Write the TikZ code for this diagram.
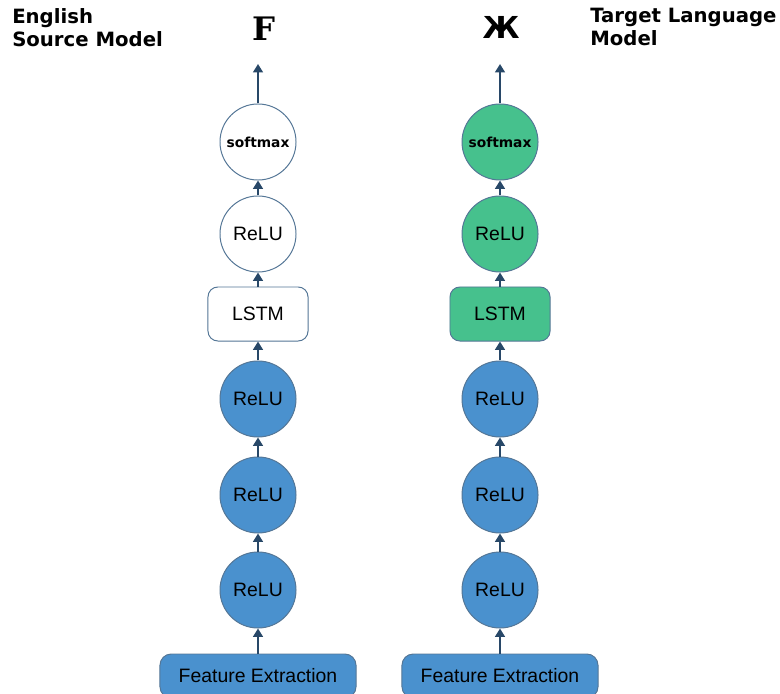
\documentclass[tikz,border=0pt]{standalone}
\usepackage{fontspec}
\setmainfont{Liberation Sans}
\newfontfamily\headfont{DejaVu Sans}
\newfontfamily\glyphfont{DejaVu Serif}
\usetikzlibrary{arrows.meta}
\definecolor{layerblue}{RGB}{74,145,206}
\definecolor{layergreen}{RGB}{70,193,141}
\definecolor{edgegray}{RGB}{84,118,150}
\definecolor{arrownavy}{RGB}{40,72,104}

\begin{document}
\begin{tikzpicture}[
    x=0.025cm,y=-0.025cm,
    unit/.style={
        circle,
        draw=edgegray,
        line width=0.7pt,
        minimum size=1.9cm,
        inner sep=0pt,
        font=\fontsize{13.8}{16}\selectfont
    },
    smax/.style={
        unit,
        font=\headfont\bfseries\fontsize{9.8}{11}\selectfont
    },
    cell/.style={
        rectangle,
        rounded corners=7pt,
        draw=edgegray,
        line width=0.7pt,
        minimum width=2.5cm,
        minimum height=1.35cm,
        font=\fontsize{13.8}{16}\selectfont
    },
    feat/.style={
        rectangle,
        rounded corners=8pt,
        draw=edgegray,
        line width=0.7pt,
        fill=layerblue,
        minimum width=4.9cm,
        minimum height=1.1cm,
        font=\fontsize{13.8}{16}\selectfont
    },
    flow/.style={
        -{Triangle[length=6pt,width=7pt]},
        draw=arrownavy,
        line width=1.4pt
    },
    heading/.style={font=\headfont\bfseries\fontsize{14}{16.4}\selectfont,align=left,anchor=north west,inner sep=0pt}
    ]

  \useasboundingbox (0,0) rectangle (780,694);

  % English source model
  \node[feat] (featA) at (258,676) {Feature Extraction};
  \node[unit,fill=layerblue] (reluA1) at (258,590) {ReLU};
  \node[unit,fill=layerblue] (reluA2) at (258,495) {ReLU};
  \node[unit,fill=layerblue] (reluA3) at (258,399) {ReLU};
  \node[cell,fill=white] (lstmA) at (258,314) {LSTM};
  \node[unit,fill=white] (reluA4) at (258,234) {ReLU};
  \node[smax,fill=white] (smA) at (258,142) {softmax};
  \coordinate (outA) at (258,64);
  \node[font=\glyphfont\bfseries\fontsize{23}{23}\selectfont,anchor=base] (charA) at (264,41) {F};

  % target language model
  \node[feat] (featB) at (500,676) {Feature Extraction};
  \node[unit,fill=layerblue] (reluB1) at (500,590) {ReLU};
  \node[unit,fill=layerblue] (reluB2) at (500,495) {ReLU};
  \node[unit,fill=layerblue] (reluB3) at (500,399) {ReLU};
  \node[cell,fill=layergreen] (lstmB) at (500,314) {LSTM};
  \node[unit,fill=layergreen] (reluB4) at (500,234) {ReLU};
  \node[smax,fill=layergreen] (smB) at (500,142) {softmax};
  \coordinate (outB) at (500,64);
  \node[font=\headfont\bfseries\fontsize{21.5}{22}\selectfont,anchor=base] (charB) at (501,39) {Ж};

  \node[heading] (titleA) at (12,8) {English\\Source Model};
  \node[heading] (titleB) at (590,8) {Target Language\\Model};

  \draw[flow] (featA) -- (reluA1);
  \draw[flow] (reluA1) -- (reluA2);
  \draw[flow] (reluA2) -- (reluA3);
  \draw[flow] (reluA3) -- (lstmA);
  \draw[flow] (lstmA) -- (reluA4);
  \draw[flow] (reluA4) -- (smA);
  \draw[flow] (smA) -- (outA);

  \draw[flow] (featB) -- (reluB1);
  \draw[flow] (reluB1) -- (reluB2);
  \draw[flow] (reluB2) -- (reluB3);
  \draw[flow] (reluB3) -- (lstmB);
  \draw[flow] (lstmB) -- (reluB4);
  \draw[flow] (reluB4) -- (smB);
  \draw[flow] (smB) -- (outB);

\end{tikzpicture}
\end{document}
